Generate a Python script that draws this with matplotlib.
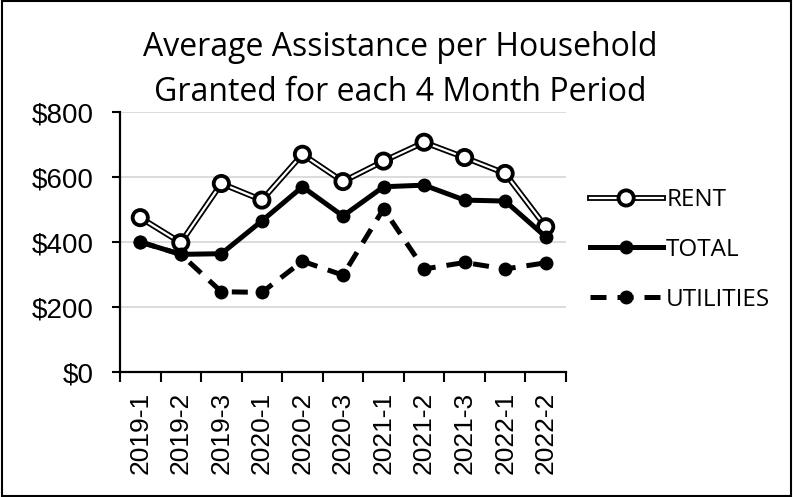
import matplotlib.pyplot as plt
import matplotlib.patheffects as pe
from matplotlib.patches import Rectangle
from matplotlib.ticker import FixedLocator, FuncFormatter

periods = ["2019-1", "2019-2", "2019-3", "2020-1", "2020-2", "2020-3",
           "2021-1", "2021-2", "2021-3", "2022-1", "2022-2"]
rent = [475, 398, 580, 529, 670, 586, 649, 707, 660, 611, 447]
total = [400, 362, 364, 465, 570, 480, 570, 575, 529, 526, 416]
utilities = [400, 362, 247, 245, 341, 298, 502, 317, 337, 317, 336]

fig = plt.figure(figsize=(7.93, 4.97), dpi=100)
ax = fig.add_axes([0.1513, 0.2515, 0.5624, 0.5231])
x = list(range(len(periods)))

ax.plot(x, utilities, color="black", lw=3.6, ls=(0, (3.2, 2.2)),
        marker="o", ms=9, mfc="black", mec="black", label="UTILITIES", zorder=3)
ax.plot(x, rent, color="white", lw=1.6, marker="o", ms=9.5, mfc="white",
        mec="black", mew=1.3, label="RENT", zorder=4,
        path_effects=[pe.Stroke(linewidth=4.2, foreground="black"), pe.Normal()])
ax.plot(x, total, color="black", lw=3.6, marker="o", ms=9, mfc="black",
        mec="black", label="TOTAL", zorder=5)

ax.set_xlim(-0.5, len(periods) - 0.5)
ax.set_ylim(0, 800)
ax.set_yticks([0, 200, 400, 600, 800])
ax.yaxis.set_major_formatter(FuncFormatter(lambda v, p: f"${v:.0f}"))
ax.grid(axis="y", color="#d9d9d9", lw=1.3, zorder=0)
ax.set_axisbelow(True)

ax.set_xticks(x)
ax.set_xticklabels(periods, rotation=90, fontfamily="Liberation Sans", fontsize=19)
ax.xaxis.set_minor_locator(FixedLocator([i - 0.5 for i in range(len(periods) + 1)]))
ax.tick_params(axis="x", which="major", length=0, pad=14)
ax.tick_params(axis="x", which="minor", length=7, width=1.5, direction="out")
ax.tick_params(axis="y", length=6, width=1.5, direction="out", pad=13)
for lab in ax.get_yticklabels():
    lab.set_fontfamily("Liberation Sans")
    lab.set_fontsize(20)

for s in ["top", "right"]:
    ax.spines[s].set_visible(False)
for s in ["left", "bottom"]:
    ax.spines[s].set_linewidth(1.6)

h, l = ax.get_legend_handles_labels()
order = [1, 2, 0]
fig.legend([h[i] for i in order], [l[i] for i in order],
           loc="center left", bbox_to_anchor=(0.716, 1 - 250 / 497), frameon=False,
           prop={"family": "Open Sans", "size": 17.5}, handlelength=3.0,
           handletextpad=0.15, labelspacing=1.05, markerscale=1.0)

fig.text(0.505, 1 - 70 / 497,
         "Average Assistance per Household\nGranted for each 4 Month Period",
         ha="center", va="center", fontfamily="Open Sans", fontsize=23,
         linespacing=1.5)

fig.patches.append(Rectangle((0.002, 0.002), 0.995, 0.995, transform=fig.transFigure,
                             fill=False, edgecolor="black", lw=1.5))

fig.savefig("out.png", dpi=100)
